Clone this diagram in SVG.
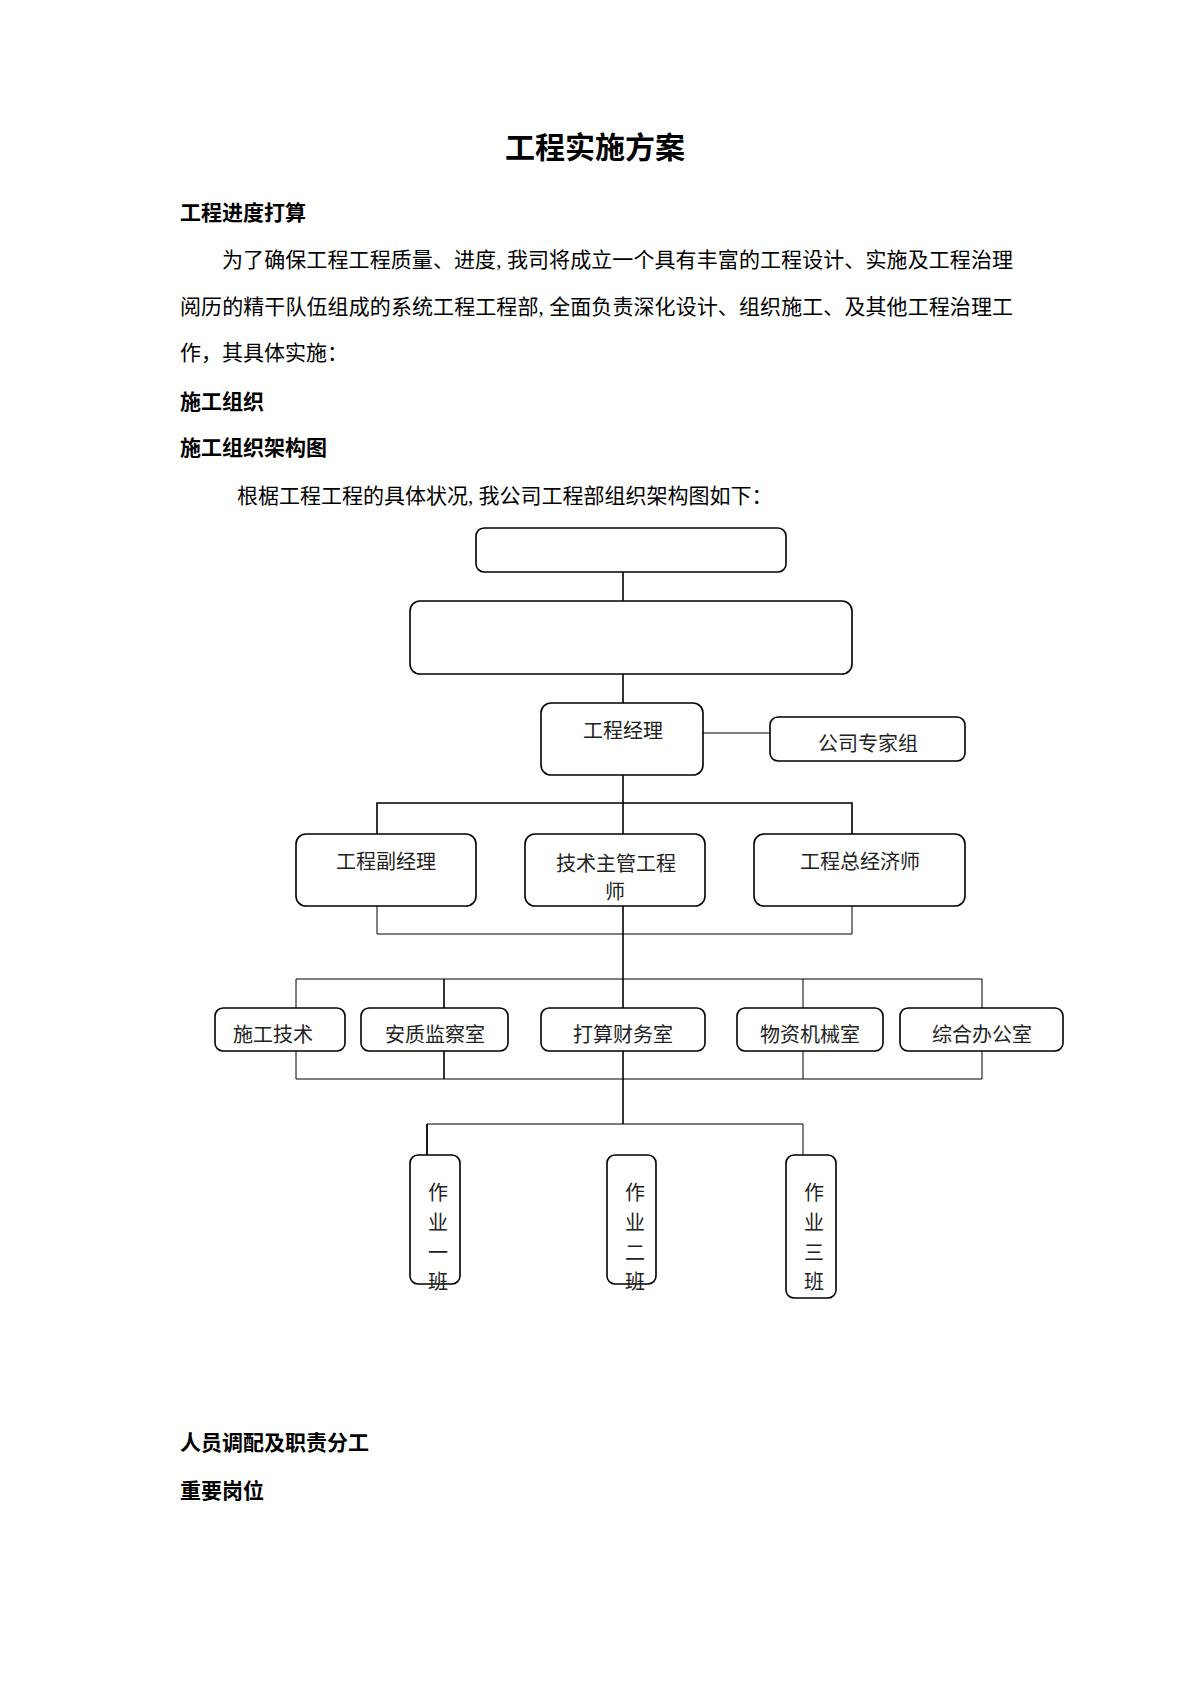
<svg xmlns="http://www.w3.org/2000/svg" width="1190" height="1684" viewBox="0 0 1190 1684">
<style>
.bg{fill:#ffffff}
.h{font-family:"Liberation Sans","Noto Sans CJK SC",sans-serif;font-weight:bold;font-size:21px;fill:#000}
.title{font-family:"Liberation Sans","Noto Sans CJK SC",sans-serif;font-weight:bold;font-size:30px;fill:#000}
.p{font-family:"Liberation Serif","Noto Sans CJK SC",serif;font-size:21px;fill:#000}
.box{fill:#ffffff;stroke:#000;stroke-width:1.6}
.lbl{font-family:"Liberation Serif","Noto Sans CJK SC",serif;font-size:20px;fill:#222;text-anchor:middle}
.ln{stroke:#000;stroke-width:1.6;fill:none}
.thin{stroke:#000;stroke-width:1;fill:none}
</style>
<rect class="bg" x="0" y="0" width="1190" height="1684"/>
<g id="text">
<text class="title" x="595" y="158" text-anchor="middle">工程实施方案</text>
<text class="h" x="180" y="220">工程进度打算</text>
<text class="p" x="222" y="267" textLength="791" lengthAdjust="spacing">为了确保工程工程质量、进度, 我司将成立一个具有丰富的工程设计、实施及工程治理</text>
<text class="p" x="180" y="314" textLength="833" lengthAdjust="spacing">阅历的精干队伍组成的系统工程工程部, 全面负责深化设计、组织施工、及其他工程治理工</text>
<text class="p" x="180" y="360">作，其具体实施：</text>
<text class="h" x="180" y="409">施工组织</text>
<text class="h" x="180" y="455">施工组织架构图</text>
<text class="p" x="237" y="503">根椐工程工程的具体状况, 我公司工程部组织架构图如下：</text>
<text class="h" x="180" y="1450">人员调配及职责分工</text>
<text class="h" x="180" y="1498">重要岗位</text>
</g>
<g id="connectors">
<line class="ln" x1="623" y1="572" x2="623" y2="1124"/>
<line class="thin" x1="703" y1="733" x2="770" y2="733"/>
<polyline class="ln" points="377,834 377,803 852,803 852,834"/>
<polyline class="thin" points="377,906 377,934 852,934 852,906"/>
<polyline class="thin" points="296,1008 296,979 982,979 982,1008"/>
<line class="ln" x1="444" y1="979" x2="444" y2="1008"/>
<line class="thin" x1="803" y1="979" x2="803" y2="1008"/>
<polyline class="thin" points="296,1051 296,1079 982,1079 982,1051"/>
<line class="ln" x1="444" y1="1051" x2="444" y2="1079"/>
<line class="thin" x1="803" y1="1051" x2="803" y2="1079"/>
<polyline class="thin" points="427,1155 427,1124 803,1124 803,1155"/>
<line class="ln" x1="427" y1="1124" x2="427" y2="1155"/>
</g>
<g id="node-top"><rect class="box" x="476" y="528" width="310" height="44" rx="8"/></g>
<g id="node-second"><rect class="box" x="410" y="601" width="442" height="73" rx="10"/></g>
<g id="node-pm"><rect class="box" x="541" y="703" width="162" height="72" rx="10"/><text class="lbl" x="623" y="738">工程经理</text></g>
<g id="node-expert"><rect class="box" x="770" y="717" width="195" height="44" rx="8"/><text class="lbl" x="868" y="751">公司专家组</text></g>
<g id="node-deputy"><rect class="box" x="296" y="834" width="180" height="72" rx="10"/><text class="lbl" x="386" y="869">工程副经理</text></g>
<g id="node-tech"><rect class="box" x="525" y="834" width="180" height="72" rx="10"/><text class="lbl" x="616" y="871">技术主管工程</text><text class="lbl" x="615" y="899">师</text></g>
<g id="node-econ"><rect class="box" x="754" y="834" width="211" height="72" rx="10"/><text class="lbl" x="860" y="869">工程总经济师</text></g>
<g id="node-sgjs"><rect class="box" x="215" y="1008" width="130" height="43" rx="8"/><text class="lbl" x="273" y="1042">施工技术</text></g>
<g id="node-azjc"><rect class="box" x="361" y="1008" width="147" height="43" rx="8"/><text class="lbl" x="435" y="1042">安质监察室</text></g>
<g id="node-dscw"><rect class="box" x="541" y="1008" width="164" height="43" rx="8"/><text class="lbl" x="623" y="1042">打算财务室</text></g>
<g id="node-wzjx"><rect class="box" x="737" y="1008" width="146" height="43" rx="8"/><text class="lbl" x="810" y="1042">物资机械室</text></g>
<g id="node-zhbg"><rect class="box" x="900" y="1008" width="163" height="43" rx="8"/><text class="lbl" x="982" y="1042">综合办公室</text></g>
<g id="node-team1"><rect class="box" x="410" y="1155" width="50" height="129" rx="8"/>
<text class="lbl" x="438" y="1200">作</text><text class="lbl" x="438" y="1230">业</text><text class="lbl" x="438" y="1260">一</text><text class="lbl" x="438" y="1289">班</text></g>
<g id="node-team2"><rect class="box" x="607" y="1155" width="49" height="129" rx="8"/>
<text class="lbl" x="635" y="1200">作</text><text class="lbl" x="635" y="1230">业</text><text class="lbl" x="635" y="1260">二</text><text class="lbl" x="635" y="1289">班</text></g>
<g id="node-team3"><rect class="box" x="786" y="1155" width="50" height="143" rx="8"/>
<text class="lbl" x="814" y="1200">作</text><text class="lbl" x="814" y="1230">业</text><text class="lbl" x="814" y="1260">三</text><text class="lbl" x="814" y="1289">班</text></g>
</svg>
